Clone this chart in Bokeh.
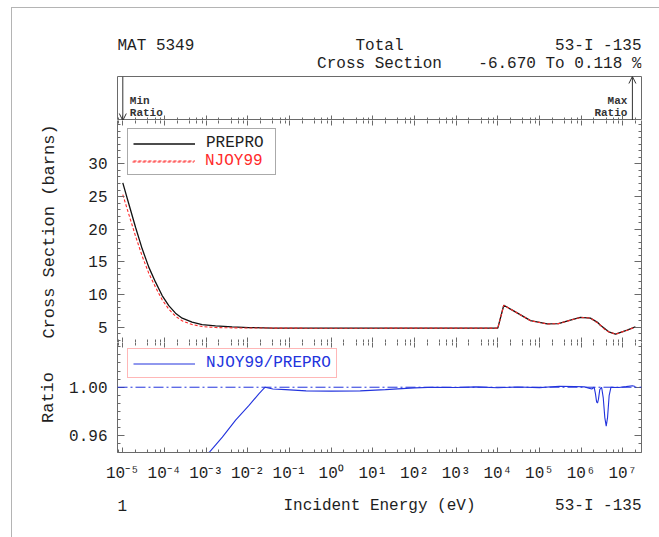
from bokeh.plotting import figure
from bokeh.layouts import column
from bokeh.models import (Range1d, FixedTicker, LinearAxis, Legend, LegendItem,
                          Arrow, OpenHead, Span, CustomJSTickFormatter)
from bokeh.embed import file_html
from bokeh.resources import INLINE
from bokeh.core.properties import value

# ---------------- data ----------------
header_mat = "MAT 5349"
header_title_1 = "Total"
header_title_2 = "Cross Section"
header_material = "53-I -135"
header_range = "-6.670 To 0.118 %"
footer_left = "1"
footer_right = "53-I -135"
x_title = "Incident Energy (eV)"
y_title_xs = "Cross Section (barns)"
y_title_ratio = "Ratio"
legend_prepro = "PREPRO"
legend_njoy = "NJOY99"
legend_ratio = "NJOY99/PREPRO"
min_label = ["Min", "Ratio"]
max_label = ["Max", "Ratio"]

x_tick_values = [1e-5, 1e-4, 1e-3, 1e-2, 1e-1, 1e0, 1e1, 1e2, 1e3, 1e4, 1e5, 1e6, 1e7]
x_tick_labels = ["10⁻⁵", "10⁻⁴", "10⁻³", "10⁻²", "10⁻¹", "10⁰", "10¹",
                 "10²", "10³", "10⁴", "10⁵", "10⁶", "10⁷"]
x_minor_mantissas = [2, 4, 6, 8]

xs_tick_values = [5, 10, 15, 20, 25, 30]
xs_tick_labels = ["5", "10", "15", "20", "25", "30"]
ratio_tick_values = [0.96, 1.00]
ratio_tick_labels = ["0.96", "1.00"]

energy_xs = [1.0e-5, 1.39e-5, 2.02e-5, 2.92e-5, 4.2e-5, 6.1e-5, 8.8e-5, 1.27e-4, 1.84e-4,
             2.66e-4, 4.6e-4, 8.0e-4, 1.68e-3, 4.2e-3, 1.06e-2, 2.4e-2, 4.0e-2,
             1.0, 100.0, 1.0e4, 1.39e4, 2.4e4, 6.1e4, 1.53e5, 2.86e5, 5.5e5, 9.6e5,
             1.67e6, 2.47e6, 2.9e6, 4.0e6, 4.6e6, 6.7e6, 1.27e7, 2.0e7]
prepro_xs = [27.1, 23.9, 20.3, 17.0, 14.2, 11.9, 9.85, 8.3, 7.15,
             6.38, 5.77, 5.41, 5.2, 5.06, 4.95, 4.9, 4.87,
             4.86, 4.86, 4.86, 8.36, 7.5, 6.0, 5.5, 5.55, 6.07, 6.5,
             6.4, 5.75, 5.3, 4.6, 4.3, 3.93, 4.54, 5.05]
njoy_xs = [25.29, 22.31, 18.95, 15.87, 13.26, 11.12, 9.20, 7.76, 6.69,
           5.97, 5.42, 5.10, 4.95, 4.90, 4.876, 4.89, 4.863,
           4.845, 4.858, 4.86, 8.36, 7.5, 6.0, 5.5, 5.55, 6.07, 6.5,
           6.4, 5.67, 5.3, 4.45, 4.3, 3.93, 4.54, 5.05]

energy_ratio = [1e-5, 3e-5, 1e-4, 3e-4, 7e-4, 1.23e-3, 2.45e-3, 5.1e-3, 1.07e-2,
                1.86e-2, 2.6e-2, 4e-2, 8.1e-2, 0.25, 1.0, 5.0, 20.0, 100.0, 300.0,
                1e3, 3e3, 1e4, 3e4, 1e5, 3e5, 7e5, 1.2e6, 1.8e6, 2.05e6, 2.2e6,
                2.35e6, 2.47e6, 2.6e6, 2.8e6, 3.1e6, 3.4e6, 3.7e6, 4.0e6, 4.3e6,
                4.7e6, 5.2e6, 8e6, 1.2e7, 1.7e7, 2.0e7]
ratio_values = [0.9333, 0.9337, 0.9345, 0.937, 0.941, 0.947, 0.959, 0.973, 0.985,
                0.9948, 1.0, 0.9985, 0.998, 0.997, 0.9968, 0.997, 0.998, 0.9995, 1.0,
                0.9998, 1.0003, 0.9996, 1.0002, 0.9997, 1.0008, 1.0006, 1.0003, 0.9985,
                1.0, 0.995, 0.988, 0.987, 0.990, 0.998, 1.0, 0.991, 0.975, 0.968, 0.975,
                0.993, 1.0, 0.9998, 1.0005, 1.00118, 1.0006]

min_ratio_energy = 1.0e-5
max_ratio_energy = 1.7e7

# ---------------- style ----------------
FONT = "Liberation Mono"
FRAME = "#6a6a6a"
TEXT = "#1e1e1e"
RED = "#ff2a2a"
BLUE = "#2233dd"
FW = 647
LB = 105
RB = 18

x_range = Range1d(7.46e-6, 2.81e7)
x_minor = [m * 10.0 ** k for k in range(-6, 8) for m in x_minor_mantissas]
xs_minor = list(range(3, 37))
ratio_minor = [1 + i / 150 for i in range(-8, 6)]


def fig(height, xr, yr, xlog=True, top=0, bottom=0):
    p = figure(width=FW, height=height, x_range=xr, y_range=yr,
               x_axis_type="log" if xlog else "linear",
               x_axis_location=None, y_axis_location=None,
               toolbar_location=None, output_backend="svg",
               min_border_left=LB, min_border_right=RB,
               min_border_top=top, min_border_bottom=bottom)
    p.outline_line_color = None
    p.grid.visible = False
    p.background_fill_color = "white"
    p.border_fill_color = "white"
    return p


def fmt(vals, labs, log=False):
    code = ("for (let i = 0; i < vals.length; i++) {"
            + ("if (Math.abs(Math.log10(tick) - Math.log10(vals[i])) < 1e-6) return labs[i];" if log
               else "if (Math.abs(tick - vals[i]) < 1e-9) return labs[i];")
            + "} return '';")
    return CustomJSTickFormatter(args=dict(vals=vals, labs=labs), code=code)


def _style(ax, line):
    ax.major_tick_out = 0
    ax.minor_tick_out = 0
    ax.axis_line_color = FRAME if line else None
    ax.major_tick_line_color = FRAME
    ax.minor_tick_line_color = FRAME


def label_axis(p, side, majors, minors, formatter, maj=6, mnr=3, size="16px", standoff=10):
    ax = LinearAxis(ticker=FixedTicker(ticks=majors, minor_ticks=minors), formatter=formatter)
    _style(ax, True)
    ax.major_tick_in = maj
    ax.minor_tick_in = mnr
    ax.major_label_text_font = FONT
    ax.major_label_text_font_size = size
    ax.major_label_text_color = TEXT
    ax.major_label_standoff = standoff
    p.add_layout(ax, side)
    return ax


def tick_axis(p, side, majors, minors, maj=6, mnr=3, line=True):
    # inward ticks only, no labels: minor ticks and (longer) major ticks
    a = LinearAxis(ticker=FixedTicker(ticks=[], minor_ticks=minors))
    _style(a, line)
    a.major_tick_in = 0
    a.minor_tick_in = mnr
    a.major_label_standoff = 0
    p.add_layout(a, side)
    b = LinearAxis(ticker=FixedTicker(ticks=[], minor_ticks=majors))
    _style(b, False)
    b.major_tick_in = 0
    b.minor_tick_in = maj
    b.major_label_standoff = 0
    p.add_layout(b, side)


# ---------------- header ----------------
hdr = fig(68, Range1d(0, 1), Range1d(76, 8), xlog=False)
tk = dict(text_font=value(FONT), text_font_size="16px", text_color=TEXT, text_baseline="middle")
hdr.text(x=[0], y=[45], text=[header_mat], text_align="left", **tk)
hdr.text(x=[0.5], y=[45], text=[header_title_1], text_align="center", **tk)
hdr.text(x=[1], y=[45], text=[header_material], text_align="right", **tk)
hdr.text(x=[0.5], y=[63], text=[header_title_2], text_align="center", **tk)
hdr.text(x=[1], y=[63], text=[header_range], text_align="right", **tk)

# ---------------- min / max box ----------------
box = fig(44, x_range, Range1d(0, 1))
box.outline_line_color = FRAME
tick_axis(box, "below", x_tick_values, x_minor, maj=5, mnr=3, line=False)
box.add_layout(Arrow(end=OpenHead(size=7, line_color="#333333", line_width=1),
                     x_start=min_ratio_energy, y_start=1, x_end=min_ratio_energy, y_end=0,
                     line_color="#333333", line_width=1))
box.add_layout(Arrow(end=OpenHead(size=7, line_color="#333333", line_width=1),
                     x_start=max_ratio_energy, y_start=0, x_end=max_ratio_energy, y_end=1,
                     line_color="#333333", line_width=1))
sk = dict(text_font=value(FONT), text_font_size="11px", text_font_style="bold",
          text_color="#333333", text_baseline="middle")
box.text(x=[min_ratio_energy] * 2, y=[0.45, 0.16], text=min_label, text_align="left", x_offset=7, **sk)
box.text(x=[max_ratio_energy] * 2, y=[0.45, 0.16], text=max_label, text_align="right", x_offset=-5, **sk)

# ---------------- main panel ----------------
main = fig(222, x_range, Range1d(2.66, 36.65))
ly = label_axis(main, "left", xs_tick_values, xs_minor, fmt(xs_tick_values, xs_tick_labels), maj=7, mnr=3)
ly.axis_label = y_title_xs
ly.axis_label_text_font = FONT
ly.axis_label_text_font_size = "17px"
ly.axis_label_text_font_style = "normal"
ly.axis_label_text_color = TEXT
ly.axis_label_standoff = 26
tick_axis(main, "right", xs_tick_values, xs_minor, maj=7, mnr=3)
tick_axis(main, "below", x_tick_values, x_minor, maj=5, mnr=3)
tick_axis(main, "above", x_tick_values, x_minor, maj=5, mnr=3, line=False)

r_pre = main.line(energy_xs, prepro_xs, line_color="#111111", line_width=1.3)
r_nj = main.line(energy_xs, njoy_xs, line_color=RED, line_width=1.1, line_dash="3 2")

lg_common = dict(location=(10, 167), padding=5, spacing=0, glyph_width=62, glyph_height=17,
                 label_height=17, label_standoff=11, label_width=64, margin=0,
                 label_text_font=FONT, label_text_font_size="16px")
lgA = Legend(items=[LegendItem(label=legend_prepro, renderers=[r_pre]),
                    LegendItem(label=" ", renderers=[r_nj])],
             border_line_color="#555555", border_line_width=1,
             background_fill_color="white", background_fill_alpha=1.0,
             label_text_color=TEXT, **lg_common)
lgB = Legend(items=[LegendItem(label=legend_njoy, renderers=[r_nj])],
             border_line_alpha=0, background_fill_alpha=0,
             label_text_color=RED, **lg_common)
main.add_layout(lgA)
main.add_layout(lgB)

# ---------------- ratio panel ----------------
rat = fig(144, x_range, Range1d(0.9463, 1.0368), bottom=34)
lr = label_axis(rat, "left", ratio_tick_values, ratio_minor,
                fmt(ratio_tick_values, ratio_tick_labels), maj=7, mnr=3)
lr.axis_label = y_title_ratio
lr.axis_label_text_font = FONT
lr.axis_label_text_font_size = "17px"
lr.axis_label_text_font_style = "normal"
lr.axis_label_text_color = TEXT
lr.axis_label_standoff = 8
tick_axis(rat, "right", ratio_tick_values, ratio_minor, maj=7, mnr=3)
label_axis(rat, "below", x_tick_values, x_minor, fmt(x_tick_values, x_tick_labels, log=True),
           maj=5, mnr=3, size="16px", standoff=12)
tick_axis(rat, "above", x_tick_values, x_minor, maj=5, mnr=3, line=False)

rat.add_layout(Span(location=1.0, dimension="width", line_color=BLUE, line_width=1,
                    line_dash="10 3 2 3"))
r_rat = rat.line(energy_ratio, ratio_values, line_color=BLUE, line_width=1.1)
lgR = Legend(items=[LegendItem(label=legend_ratio, renderers=[r_rat])],
             location=(10, 74), padding=5, spacing=0, glyph_width=62, glyph_height=17,
             label_height=17, label_standoff=11, margin=0,
             label_text_font=FONT, label_text_font_size="16px",
             label_text_color=BLUE, border_line_color="#ff7070", border_line_width=1,
             background_fill_color="white")
rat.add_layout(lgR)

# ---------------- footer ----------------
ftr = fig(51, Range1d(0, 1), Range1d(537, 486), xlog=False)
ftr.text(x=[0], y=[505], text=[footer_left], text_align="left", **tk)
ftr.text(x=[0.5], y=[505], text=[x_title], text_align="center", **tk)
ftr.text(x=[1], y=[505], text=[footer_right], text_align="right", **tk)

page = column(hdr, box, main, rat, ftr, spacing=0, margin=(7, 0, 0, 11),
              styles={"border-top": "1px solid #b4b4b4", "border-left": "1px solid #b4b4b4"})

open("out.html", "w").write(file_html(page, INLINE))
